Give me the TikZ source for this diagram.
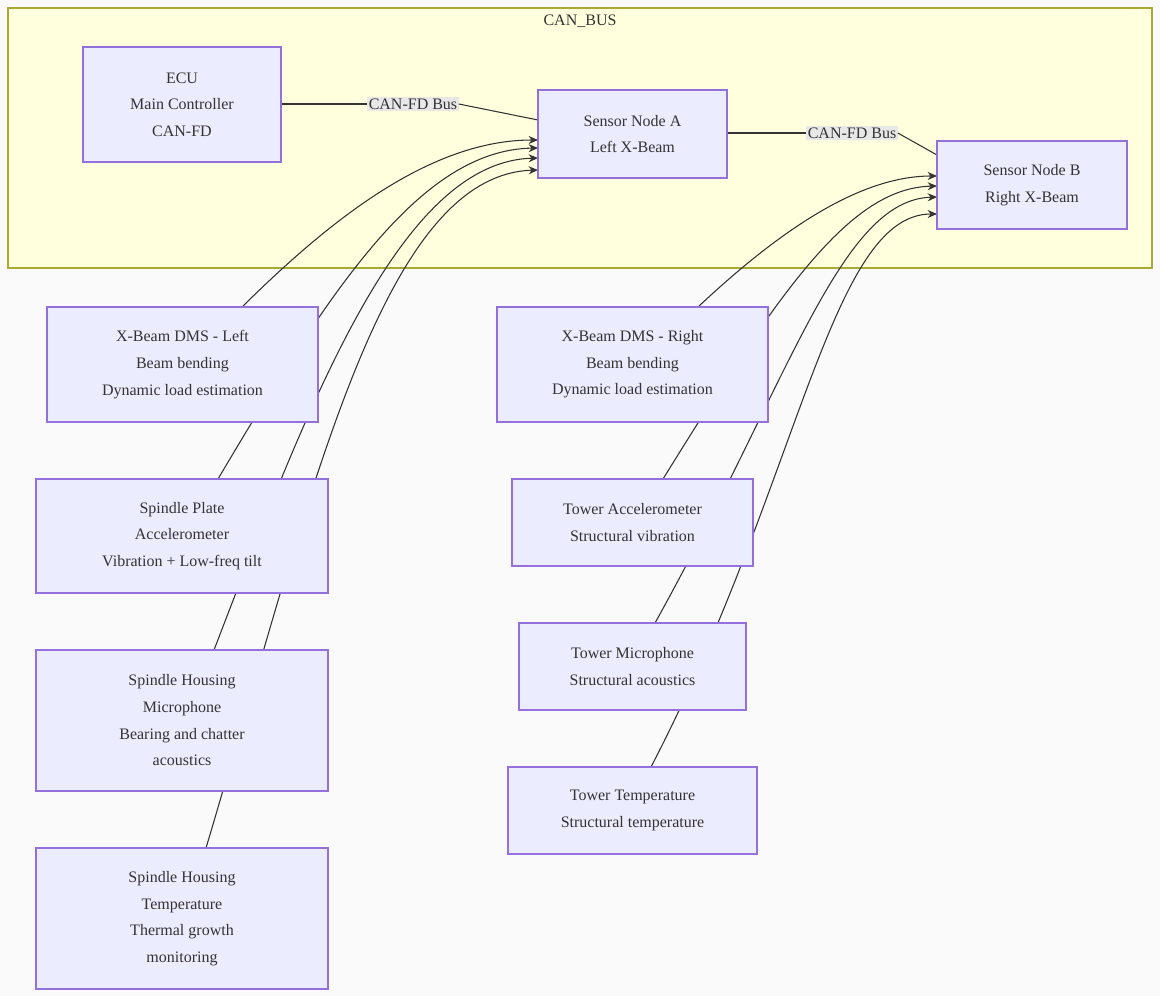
\documentclass[tikz,border=0pt]{standalone}
\usepackage{fontspec}
\setmainfont{Liberation Serif}
\usetikzlibrary{arrows.meta,calc}
\definecolor{bgc}{HTML}{FAFAFA}
\definecolor{clf}{HTML}{FFFFDE}
\definecolor{clb}{HTML}{AAAA33}
\definecolor{nf}{HTML}{ECECFF}
\definecolor{nb}{HTML}{9370DB}
\definecolor{ec}{HTML}{333333}
\definecolor{lb}{HTML}{E8E8E8}
\tikzset{
  box/.style={draw=nb,fill=nf,line width=0.8pt,align=center,inner sep=0pt,
    font=\fontsize{12}{20}\selectfont,text=ec},
  edge/.style={draw=ec,line width=0.8pt,-{Stealth[length=7pt,width=6pt]}},
  plain/.style={draw=ec,line width=0.8pt},
  lab/.style={fill=lb,inner sep=1pt,font=\fontsize{12}{14}\selectfont,text=ec}
}
\newcommand{\bx}[7]{\node[box,minimum width=#4*0.75pt,minimum height=#5*0.75pt] (#1) at (#2,#3) {#6};}
\begin{document}
\begin{tikzpicture}[x=0.75pt,y=-0.75pt]
\fill[bgc] (0,0) rectangle (1160,996);
\useasboundingbox (0,0) rectangle (1160,996);
\draw[fill=clf,draw=clb,line width=0.8pt] (8,8) rectangle (1152,268);
\node[font=\fontsize{12}{14}\selectfont,text=ec] (cbt) at (580,21) {CAN\_BUS};
% edges first (nodes drawn over them)
\coordinate (ecuS) at (281,104);
\coordinate (snaL1) at (538,120);
\coordinate (snaR) at (727,133);
\coordinate (snbL) at (937,155);
\node[lab] (l1) at (413,104) {CAN-FD Bus};
\node[lab] (l2) at (852,133) {CAN-FD Bus};
\draw[plain] (ecuS) -- (l1.west);
\draw[plain] (l1.east) -- (snaL1);
\draw[plain] (snaR) -- (l2.west);
\draw[plain] (l2.east) -- (snbL);
% to Sensor Node A
\coordinate (a1) at (538,140);
\coordinate (a2) at (538,148);
\coordinate (a3) at (538,158);
\coordinate (a4) at (538,170);
\coordinate (s1) at (242,307);
\coordinate (s2) at (218,479);
\coordinate (s3) at (214,650);
\coordinate (s4) at (206,848);
\draw[edge] (s1) .. controls (330,220) and (430,140) .. (a1);
\draw[edge] (s2) .. controls (330,290) and (420,150) .. (a2);
\draw[edge] (s3) .. controls (310,400) and (400,162) .. (a3);
\draw[edge] (s4) .. controls (310,500) and (380,175) .. (a4);
% to Sensor Node B
\coordinate (b1) at (937,176);
\coordinate (b2) at (937,186);
\coordinate (b3) at (937,197);
\coordinate (b4) at (937,214);
\coordinate (t1) at (698,307);
\coordinate (t2) at (663,479);
\coordinate (t3) at (655,623);
\coordinate (t4) at (651,767);
\draw[edge] (t1) .. controls (780,230) and (860,176) .. (b1);
\draw[edge] (t2) .. controls (780,290) and (850,188) .. (b2);
\draw[edge] (t3) .. controls (790,380) and (840,200) .. (b3);
\draw[edge] (t4) .. controls (800,480) and (830,214) .. (b4);
% nodes
\bx{ecu}{182}{104.5}{198}{115}{ECU\\Main Controller\\CAN-FD}{}
\bx{sna}{632.5}{134}{189}{88}{Sensor Node A\\Left X-Beam}{}
\bx{snb}{1032}{185}{190}{88}{Sensor Node B\\Right X-Beam}{}
\bx{dmsl}{182.5}{364.5}{271}{115}{X-Beam DMS - Left\\Beam bending\\Dynamic load estimation}{}
\bx{spa}{182}{536}{292}{114}{Spindle Plate\\Accelerometer\\Vibration + Low-freq tilt}{}
\bx{shm}{182}{720.5}{292}{141}{Spindle Housing\\Microphone\\Bearing and chatter\\acoustics}{}
\bx{sht}{182}{918.5}{292}{141}{Spindle Housing\\Temperature\\Thermal growth\\monitoring}{}
\bx{dmsr}{632.5}{364.5}{271}{115}{X-Beam DMS - Right\\Beam bending\\Dynamic load estimation}{}
\bx{ta}{632.5}{522.5}{241}{87}{Tower Accelerometer\\Structural vibration}{}
\bx{tm}{632.5}{666.5}{227}{87}{Tower Microphone\\Structural acoustics}{}
\bx{tt}{632.5}{810.5}{249}{87}{Tower Temperature\\Structural temperature}{}
\end{tikzpicture}
\end{document}
